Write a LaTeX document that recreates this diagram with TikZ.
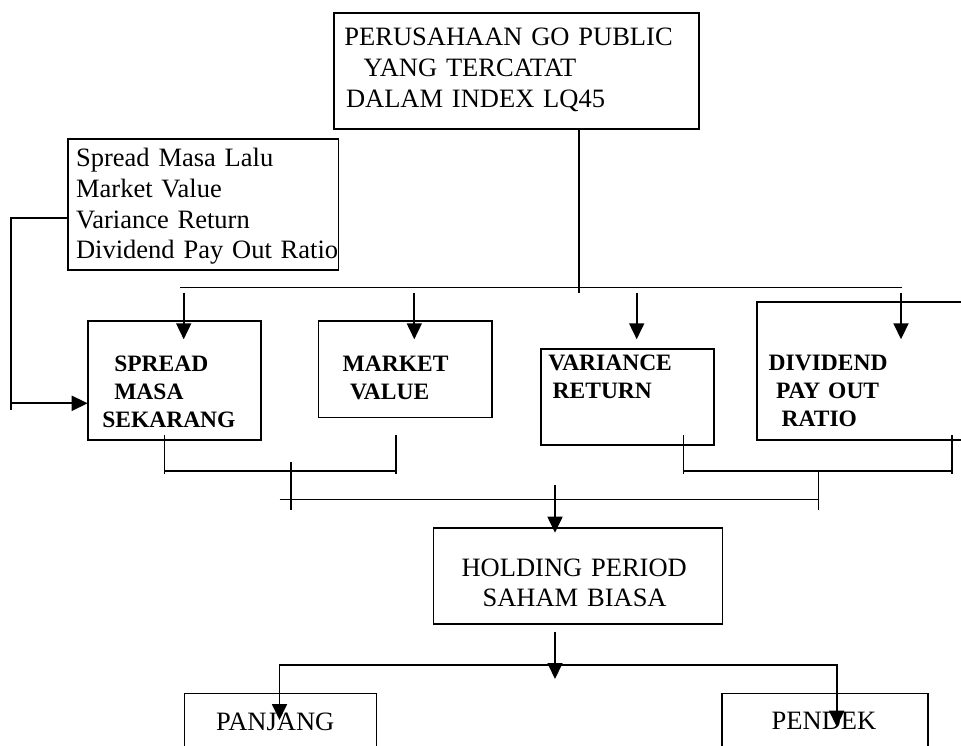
\documentclass[tikz,border=0pt]{standalone}
\usepackage{fontspec}
\setmainfont{Liberation Serif}
\usetikzlibrary{arrows.meta}
\newcommand{\txtfont}{\fontsize{26.5}{30.7}\selectfont}
\newcommand{\bldfont}{\fontsize{23.5}{28.2}\selectfont\bfseries}
\tikzstyle{arrow} = [line width=1.8pt, -{Triangle[width=15pt,length=16pt]}]
\tikzstyle{link} = [line width=1.6pt]
\tikzstyle{txtbox} = [rectangle, anchor=north west, draw=black, line width=1.6pt, outer sep=0pt, inner ysep=0pt, align=left, font=\txtfont]
\tikzstyle{bldbox} = [txtbox, font=\bldfont]

\begin{document}
\begin{tikzpicture}[x=1pt, y=-1pt]
		\useasboundingbox (0,0) rectangle (961,746);
		\clip (0,0) rectangle (961,746);
		\node (perusahaan) [txtbox, line width=2pt, text width=344.2pt, inner xsep=10.7pt, text height=32.2pt, text depth=83pt] at (333.7,13.5) {PERUSAHAAN GO PUBLIC \newline
			\hspace*{19.2pt}YANG TERCATAT \newline
			\hspace*{1.6pt}DALAM INDEX LQ45};
		\node (lalu) [txtbox, text width=254.2pt, inner xsep=8pt, text height=27.4pt, text depth=103.3pt] at (68.1,139.3) {Spread Masa Lalu \newline
			Market Value \newline
			Variance Return \newline
			\mbox{Dividend Pay Out Ratio}};
		\node (spread) [bldbox, line width=1.8pt, text width=144.1pt, inner xsep=14.6pt, text height=50pt, text depth=69pt] at (87.7,321) {\hspace*{12pt}SPREAD \newline
			\hspace*{12pt}MASA \newline
			SEKARANG};
		\node (market) [bldbox, text width=124.6pt, inner xsep=24.4pt, text height=50pt, text depth=46.3pt] at (318.3,321) {MARKET \newline
			\hspace*{7.3pt}VALUE};
		\node (variance) [bldbox, text width=158.1pt, inner xsep=7.6pt, text height=21pt, text depth=75pt] at (540.7,349) {VARIANCE \newline
			\hspace*{4.4pt}RETURN};
		\node (dividend) [bldbox, text width=219.3pt, inner xsep=12pt, text height=68.3pt, text depth=70pt] at (756.7,301.7) {DIVIDEND \newline
			\hspace*{7.3pt}PAY OUT \newline
			\hspace*{13pt}RATIO};
		\node (holding) [txtbox, text width=232.6pt, inner xsep=28.1pt, text height=48.3pt, text depth=48pt] at (433.5,527.7) {HOLDING PERIOD \newline
			\hspace*{21pt}SAHAM BIASA};
		\node (panjang) [txtbox, text width=128.7pt, inner xsep=31.6pt, text height=36.7pt, text depth=80pt] at (184.4,693.3) {PANJANG};
		\node (pendek) [txtbox, text width=106pt, inner xsep=50pt, text height=35.7pt, text depth=80pt] at (721.7,693.3) {PENDEK};

		\coordinate (top) at (579,287.3);
		\coordinate (busw) at (180,287.3);
		\coordinate (buse) at (901.7,287.3);
		\coordinate (a1) at (183.7,287.3);
		\coordinate (a2) at (414.3,287.3);
		\coordinate (a3) at (636.7,287.3);
		\coordinate (a4) at (901,287.3);
		\draw[link, shorten >=-6pt] (perusahaan.south -| top) -- (top);
		\draw[link] (busw) -- (buse);
		\draw[arrow, shorten <=5.4pt, shorten >=-18.3pt] (a1) -- (a1 |- spread.north);
		\draw[arrow, shorten <=5.4pt, shorten >=-18.3pt] (a2) -- (a2 |- market.north);
		\draw[arrow, shorten <=5.4pt, shorten >=9.7pt] (a3) -- (a3 |- variance.north);
		\draw[arrow, shorten <=5.4pt, shorten >=-37.6pt] (a4) -- (a4 |- dividend.north);

		\coordinate (fb) at (10.7,218.3);
		\coordinate (fbin) at (10.7,403.3);
		\draw[link, shorten >=-6.7pt] (lalu.west |- fb) -- (fb) -- (fbin);
		\draw[arrow] (fbin) -- (fbin -| spread.west);

		\coordinate (bl) at (164.3,471);
		\coordinate (br) at (396,471);
		\coordinate (vl) at (683.3,471);
		\coordinate (vr) at (951.7,471);
		\draw[link, shorten <=-5pt, shorten >=-3pt] (bl |- spread.south) -- (bl);
		\draw[link, shorten <=17.7pt, shorten >=-3pt] (br |- market.south) -- (br);
		\draw[link] (bl) -- (br);
		\draw[link, shorten <=-10pt, shorten >=-3pt] (vl |- variance.south) -- (vl);
		\draw[link, shorten <=-5pt, shorten >=-3pt] (vr |- dividend.south) -- (vr);
		\draw[link] (vl) -- (vr);

		\coordinate (ml) at (291,499.3);
		\coordinate (mr) at (818.3,499.3);
		\draw[link, shorten <=-9.3pt, shorten >=-10.7pt] (ml |- bl) -- (ml);
		\draw[link, shorten >=-10.7pt] (mr |- vl) -- (mr);
		\draw[link, shorten <=-11.5pt] (ml) -- (mr);

		\coordinate (hin) at (555,485);
		\coordinate (split) at (555,665);
		\coordinate (pj) at (279.5,665);
		\coordinate (pd) at (836.7,665);
		\draw[arrow, shorten >=-5pt] (hin) -- (hin |- holding.north);
		\draw[arrow, shorten <=7.7pt, shorten >=-14pt] (split |- holding.south) -- (split);
		\draw[arrow, shorten >=-26.7pt] (split) -- (pj) -- (pj |- panjang.north);
		\draw[arrow, shorten >=-33.4pt] (split) -- (pd) -- (pd |- pendek.north);
	\end{tikzpicture}
\end{document}
